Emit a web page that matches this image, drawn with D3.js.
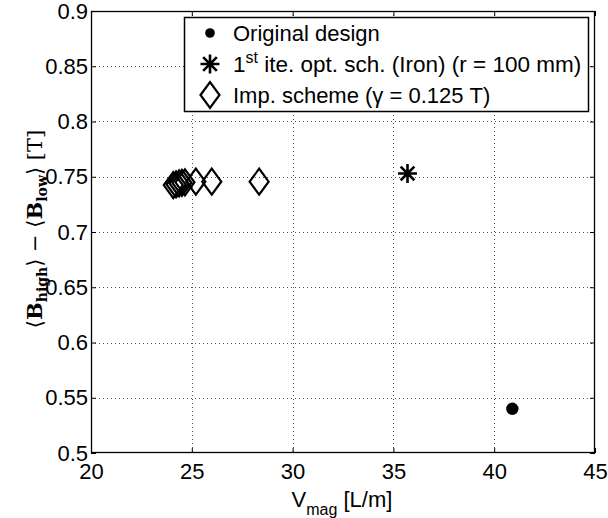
<!DOCTYPE html>
<html><head><meta charset="utf-8">
<script src="https://cdn.jsdelivr.net/npm/d3@7"></script>
<style>body{margin:0;background:#fff}svg{display:block}</style>
</head><body>
<svg id="c" width="608" height="518"></svg>
<script>
const xTicks = [20,25,30,35,40,45];
const yTicks = [0.5,0.55,0.6,0.65,0.7,0.75,0.8,0.85,0.9];
const yTickLabels = ["0.5","0.55","0.6","0.65","0.7","0.75","0.8","0.85","0.9"];
const originalX = [40.9], originalY = [0.540];
const firstIterX = [35.7], firstIterY = [0.753];
const impX = [24.08, 24.22, 24.37, 24.51, 24.66, 25.2, 25.99, 28.34];
const impY = [0.7425, 0.743, 0.744, 0.7445, 0.745, 0.7455, 0.7455, 0.7455];
const legendLabels = ["Original design", "1st ite. opt. sch. (Iron) (r = 100 mm)", "Imp. scheme (γ = 0.125 T)"];

const svg = d3.select("#c");
const L=91, R=595, T=11, B=453;
const x = d3.scaleLinear().domain([20,45]).range([L,R]);
const y = d3.scaleLinear().domain([0.5,0.9]).range([B,T]);
const font = "'Liberation Sans', Arial, sans-serif";

// grid
const g = svg.append("g");
g.selectAll(".gx").data(xTicks.slice(1,-1)).enter().append("line")
  .attr("x1",d=>Math.round(x(d))+0.5).attr("x2",d=>Math.round(x(d))+0.5).attr("y1",T).attr("y2",B)
  .attr("stroke","#555").attr("stroke-width",1).attr("stroke-dasharray","1,3");
g.selectAll(".gy").data(yTicks.slice(1,-1)).enter().append("line")
  .attr("y1",d=>Math.round(y(d))+0.5).attr("y2",d=>Math.round(y(d))+0.5).attr("x1",L).attr("x2",R)
  .attr("stroke","#555").attr("stroke-width",1).attr("stroke-dasharray","1,3");

// axes
const fmtY = d => yTickLabels[yTicks.indexOf(d)];
const ax = svg.append("g").attr("transform",`translate(0,${B})`)
  .call(d3.axisBottom(x).tickValues(xTicks).tickSizeInner(-5).tickSizeOuter(0).tickPadding(10));
const ay = svg.append("g").attr("transform",`translate(${L},0)`)
  .call(d3.axisLeft(y).tickValues(yTicks).tickFormat(fmtY).tickSizeInner(-5).tickSizeOuter(0).tickPadding(3));
const at = svg.append("g").attr("transform",`translate(0,${T})`)
  .call(d3.axisTop(x).tickValues(xTicks).tickSizeInner(-5).tickSizeOuter(0).tickFormat(""));
const ar = svg.append("g").attr("transform",`translate(${R},0)`)
  .call(d3.axisRight(y).tickValues(yTicks).tickSizeInner(-5).tickSizeOuter(0).tickFormat(""));
[ax,ay,at,ar].forEach(a=>{
  a.selectAll("path.domain").remove();
  a.selectAll("line").attr("stroke","#000");
  a.selectAll("text").attr("font-family",font).attr("font-size",22).attr("fill","#000");
});
svg.append("rect").attr("x",L+0.5).attr("y",T+0.5).attr("width",R-L-1).attr("height",B-T-1)
  .attr("fill","none").attr("stroke","#000").attr("stroke-width",1.3);

// markers
function diamondPath(cx,cy){const w=9.5,h=13;return `M${cx-w},${cy}L${cx},${cy-h}L${cx+w},${cy}L${cx},${cy+h}Z`;}
function starPath(cx,cy){const r=9.5,d=r*0.72;return `M${cx-r},${cy}H${cx+r}M${cx},${cy-r}V${cy+r}M${cx-d},${cy-d}L${cx+d},${cy+d}M${cx-d},${cy+d}L${cx+d},${cy-d}`;}

const pts = svg.append("g");
pts.selectAll(".imp").data(impX.map((v,i)=>[v,impY[i]])).enter().append("path")
  .attr("d",d=>diamondPath(x(d[0]),y(d[1]))).attr("fill","none").attr("stroke","#000").attr("stroke-width",2.2);
pts.selectAll(".it").data(firstIterX.map((v,i)=>[v,firstIterY[i]])).enter().append("path")
  .attr("d",d=>starPath(x(d[0]),y(d[1]))).attr("stroke","#000").attr("stroke-width",2.6);
pts.selectAll(".orig").data(originalX.map((v,i)=>[v,originalY[i]])).enter().append("circle")
  .attr("cx",d=>x(d[0])).attr("cy",d=>y(d[1])).attr("r",6.2).attr("fill","#000");

// legend
const lg = svg.append("g");
lg.append("rect").attr("x",184.5).attr("y",17.5).attr("width",404).attr("height",94)
  .attr("fill","#fff").attr("stroke","#000").attr("stroke-width",1.5);
const rowY = [33, 64, 95];
const mx = 210, tx = 233;
lg.append("circle").attr("cx",mx).attr("cy",rowY[0]).attr("r",4.8).attr("fill","#000");
lg.append("path").attr("d",starPath(mx,rowY[1])).attr("stroke","#000").attr("stroke-width",2.6);
lg.append("path").attr("d",diamondPath(mx,rowY[2])).attr("fill","#fff").attr("stroke","#000").attr("stroke-width",2.2);
lg.append("text").attr("x",tx).attr("y",rowY[0]+8).attr("font-family",font).attr("font-size",22).text(legendLabels[0]);
const t2 = lg.append("text").attr("x",tx).attr("y",rowY[1]+8).attr("font-family",font).attr("font-size",22.5);
t2.append("tspan").text("1");
t2.append("tspan").attr("font-size",16).attr("dy",-9).text("st");
t2.append("tspan").attr("dy",9).text(" ite. opt. sch. (Iron) (r = 100 mm)");
lg.append("text").attr("x",tx).attr("y",rowY[2]+8).attr("font-family",font).attr("font-size",22).text(legendLabels[2]);

// x label
const xl = svg.append("text").attr("x",342).attr("y",507).attr("text-anchor","middle")
  .attr("font-family",font).attr("font-size",22);
xl.append("tspan").text("V");
xl.append("tspan").attr("font-size",16).attr("dy",8).text("mag");
xl.append("tspan").attr("dy",-8).text(" [L/m]");

// y label
const serif = "'DejaVu Serif','Liberation Serif',serif";
const yl = svg.append("text").attr("transform","translate(42,229) rotate(-90)").attr("text-anchor","middle")
  .attr("font-family",serif).attr("font-size",21);
yl.append("tspan").text("⟨");
yl.append("tspan").attr("font-weight","bold").text("B");
yl.append("tspan").attr("font-weight","bold").attr("font-size",14).attr("dy",5).text("high");
yl.append("tspan").attr("dy",-5).text("⟩ − ⟨");
yl.append("tspan").attr("font-weight","bold").text("B");
yl.append("tspan").attr("font-weight","bold").attr("font-size",14).attr("dy",5).text("low");
yl.append("tspan").attr("dy",-5).text("⟩ [T]");
</script>
</body></html>
